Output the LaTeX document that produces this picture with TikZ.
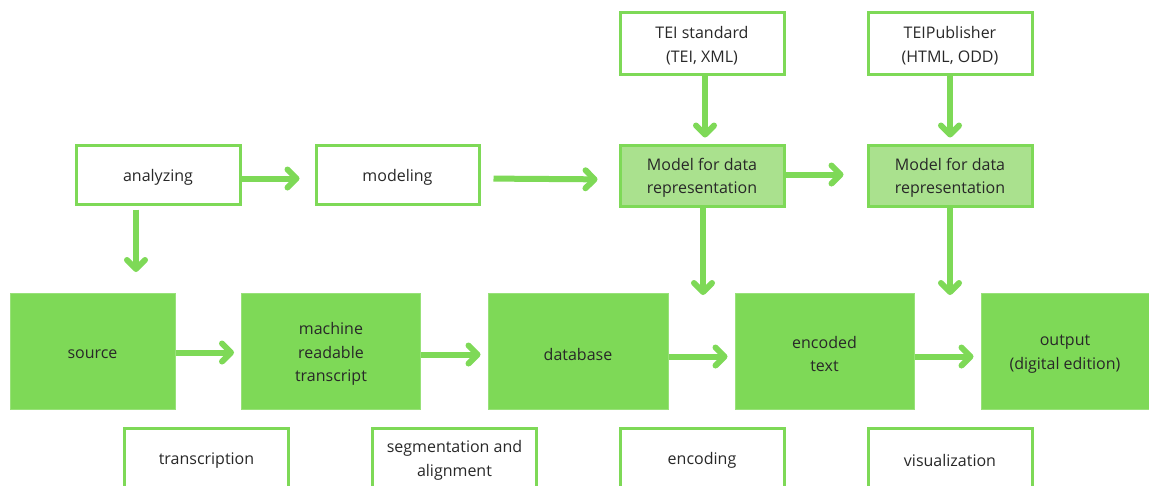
\documentclass[tikz,border=0pt]{standalone}
\usepackage{fontspec}
\setmainfont{Open Sans}
\usetikzlibrary{arrows.meta}
\definecolor{brand}{RGB}{126,217,87}
\definecolor{brandlight}{RGB}{170,225,142}
\definecolor{ink}{RGB}{40,40,40}
\tikzset{
  caption/.style={align=center, text=ink, inner sep=0pt, yshift=-2.5pt,
    font=\fontsize{16}{23.5}\selectfont},
  % every box carries its text as a centred label, set slightly low
  boxtext/.style={label={[caption]center:{#1}}},
  plainbox/.style={draw=brand, line width=3pt, fill=white,
    minimum width=164pt, minimum height=#1},
  plainbox/.default=60pt,
  modelbox/.style={draw=brand, line width=3pt, fill=brandlight,
    minimum width=164pt, minimum height=61pt},
  stagebox/.style={fill=brand, draw=brand!80!white, line width=1pt,
    minimum width=#1, minimum height=116pt},
  flow/.style={draw=brand, line width=6pt,
    -{Straight Barb[length=9pt,width=18pt,round]}},
}
\begin{document}
\begin{tikzpicture}[x=1pt,y=-1pt]
\clip (0,0) rectangle (1149,485);
\fill[white] (0,0) rectangle (1149,485);

% upper row: planning steps
\node[plainbox=59pt, boxtext={analyzing}] (analyzing) at (158,174.5) {};
\node[plainbox=59pt, minimum width=163pt, boxtext={modeling}] (modeling) at (397.5,174.5) {};
\node[modelbox, boxtext={Model for data\\representation}] (modelA) at (702,175.5) {};
\node[modelbox, boxtext={Model for data\\representation}] (modelB) at (950,175.5) {};
\node[plainbox=62pt, boxtext={TEI standard\\(TEI, XML)}] (tei) at (702,43) {};
\node[plainbox=62pt, boxtext={TEIPublisher\\(HTML, ODD)}] (teipub) at (950,43) {};

% middle row: data stages
\node[stagebox=165pt, boxtext={source}] (source) at (92.5,351.5) {};
\node[stagebox=179pt, boxtext={machine\\readable\\transcript}] (machine) at (331,351.5) {};
\node[stagebox=180pt, boxtext={database}] (database) at (578,351.5) {};
\node[stagebox=179pt, boxtext={encoded\\text}] (encoded) at (824.5,351.5) {};
\node[stagebox=168pt, boxtext={output\\(digital edition)}] (output) at (1065,351.5) {};

% lower row: activities
\node[plainbox, boxtext={transcription}] (transcription) at (206.5,458) {};
\node[plainbox, boxtext={segmentation and\\alignment}] (segmentation) at (454.5,458) {};
\node[plainbox, boxtext={encoding}] (encoding) at (702,458) {};
\node[plainbox, boxtext={visualization}] (visualization) at (950,458) {};

% free ends of the downward arrows
\coordinate (analyzingEnd) at (136,272);
\coordinate (modelAEnd) at (703,295);
\coordinate (modelBEnd) at (950,295);

% horizontal flow, upper row
\draw[flow, shorten >=15pt] ([yshift=-4pt]analyzing.east) -- ([yshift=-4pt]modeling.west);
\draw[flow, shorten <=13pt, shorten >=21pt] ([yshift=-4pt]modeling.east) -- ([yshift=-4pt]modelA.west);
\draw[flow, shorten >=23pt] ([yshift=1pt]modelA.east) -- ([yshift=1pt]modelB.west);

% standards feeding the models
\draw[flow, shorten >=6pt] ([xshift=3pt]tei.south) -- ([xshift=3pt]modelA.north);
\draw[flow, shorten >=6pt] (teipub.south) -- (modelB.north);

% downward arrows
\draw[flow, shorten <=4pt] (analyzing.south -| analyzingEnd) -- (analyzingEnd);
\draw[flow] (modelA.south -| modelAEnd) -- (modelAEnd);
\draw[flow] (modelB.south) -- (modelBEnd);

% horizontal flow, data stages
\draw[flow, shorten >=7pt] ([yshift=-1pt]source.east) -- ([yshift=-1pt]machine.west);
\draw[flow, shorten >=7pt] ([yshift=-3pt]machine.east) -- ([yshift=-3pt]database.west);
\draw[flow, shorten >=7pt] ([yshift=-5pt]database.east) -- ([yshift=-5pt]encoded.west);
\draw[flow, shorten >=7pt] ([yshift=-5pt]encoded.east) -- ([yshift=-5pt]output.west);
\end{tikzpicture}
\end{document}
